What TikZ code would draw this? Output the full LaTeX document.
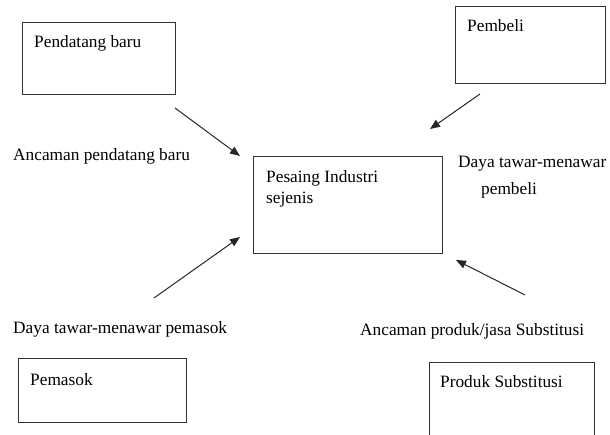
\documentclass[tikz,border=0pt]{standalone}
\usepackage{fontspec}
\setmainfont{Liberation Serif}
\usetikzlibrary{arrows.meta}
\begin{document}
\begin{tikzpicture}[x=1pt,y=-1pt,
  box/.style={draw=black!80,line width=0.9pt,rectangle,inner sep=0pt},
  txt/.style={anchor=base west,inner sep=0pt,font=\fontsize{17.3}{21}\selectfont,text=black},
  arr/.style={draw=black!85,line width=1pt,-{Triangle[length=10pt,width=8pt]}}]
\useasboundingbox (0,0) rectangle (610,435);
% boxes
\node[box,minimum width=153pt,minimum height=72pt] (pb) at (98.5,58) {};
\node[box,minimum width=150pt,minimum height=77pt] (pm) at (530,44.5) {};
\node[box,minimum width=189pt,minimum height=97pt] (ps) at (348,204.5) {};
\node[box,minimum width=168pt,minimum height=64pt] (pk) at (102,390) {};
\node[box,minimum width=165pt,minimum height=90pt] (sb) at (511.5,407) {};
% box texts
\node[txt] (tpb) at (34,48) {Pendatang baru};
\node[txt] (tpm) at (467,32) {Pembeli};
\node[txt] (tps1) at (266,183) {Pesaing Industri};
\node[txt] (tps2) at (266,204) {sejenis};
\node[txt] (tpk) at (30,385) {Pemasok};
\node[txt] (tsb) at (440,387) {Produk Substitusi};
% labels
\node[txt] (l1) at (13,161) {Ancaman pendatang baru};
\node[txt] (l2a) at (458,168) {Daya tawar-menawar};
\node[txt] (l2b) at (481,195) {pembeli};
\node[txt] (l3) at (13,334) {Daya tawar-menawar pemasok};
\node[txt] (l4) at (360,335) {Ancaman produk/jasa Substitusi};
% arrow coordinates
\coordinate (a1s) at (175,108); \coordinate (a1e) at (240,156);
\coordinate (a2s) at (480,94);  \coordinate (a2e) at (430,129);
\coordinate (a3s) at (154,298); \coordinate (a3e) at (240,237);
\coordinate (a4s) at (525,295); \coordinate (a4e) at (456,260);
\draw[arr] (a1s) -- (a1e);
\draw[arr] (a2s) -- (a2e);
\draw[arr] (a3s) -- (a3e);
\draw[arr] (a4s) -- (a4e);
\end{tikzpicture}
\end{document}
